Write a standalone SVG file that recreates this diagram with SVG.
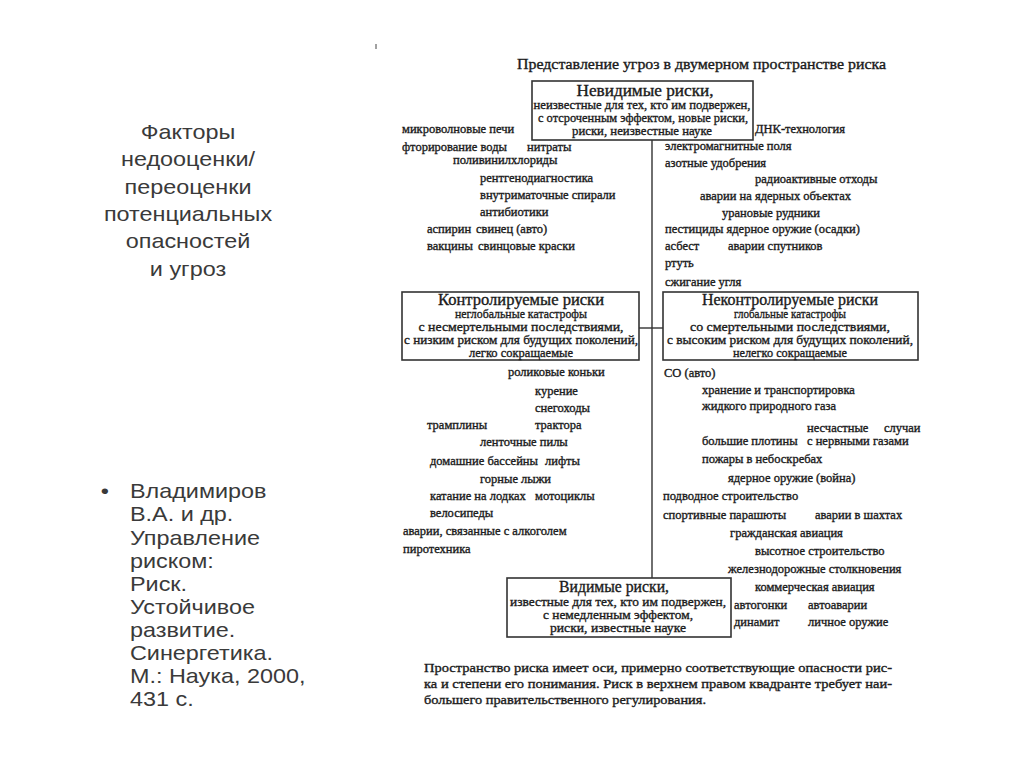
<svg xmlns="http://www.w3.org/2000/svg" width="1024" height="767" viewBox="0 0 1024 767">
<style>
.bg{fill:#fff}
.box{fill:none;stroke:#333;stroke-width:1.6}
.ax{fill:none;stroke:#333;stroke-width:1.4}
.s{font-family:"Liberation Serif","Times New Roman",serif;fill:#1a1a1a;stroke:#1a1a1a;stroke-width:0.35}
.it{font-size:12.5px}
.hd{font-size:16px}
.bl{font-size:13px}
.ttl{font-size:15px}
.note{font-size:13px}
.mid{text-anchor:middle}
.side{font-family:"Liberation Sans",Arial,sans-serif;font-size:20px;fill:#3a3a3a}
</style>
<rect class="bg" width="1024" height="767"/>

<g id="side-title" class="side" text-anchor="middle" transform="translate(188,0) scale(1.17,1) translate(-188,0)">
<text x="188" y="139">Факторы</text>
<text x="188" y="166">недооценки/</text>
<text x="188" y="194">переоценки</text>
<text x="188" y="221">потенциальных</text>
<text x="188" y="248">опасностей</text>
<text x="188" y="276">и угроз</text>
</g>

<g id="reference" class="side" transform="translate(130,0) scale(1.17,1) translate(-130,0)">
<text x="105" y="498">•</text>
<text x="130" y="498">Владимиров</text>
<text x="130" y="521">В.А. и др.</text>
<text x="130" y="545">Управление</text>
<text x="130" y="568">риском:</text>
<text x="130" y="591">Риск.</text>
<text x="130" y="614">Устойчивое</text>
<text x="130" y="637">развитие.</text>
<text x="130" y="660">Синергетика.</text>
<text x="130" y="683">М.: Наука, 2000,</text>
<text x="130" y="706">431 с.</text>
</g>

<line x1="376" y1="44" x2="376" y2="49" stroke="#444" stroke-width="1"/>

<text class="s ttl" x="517" y="69" textLength="369" lengthAdjust="spacingAndGlyphs">Представление угроз в двумерном пространстве риска</text>

<g id="connectors">
<line class="ax" x1="652" y1="140" x2="652" y2="578"/>
<line class="ax" x1="639" y1="328" x2="663" y2="328"/>
</g>

<g id="invisible">
<rect class="box" x="532" y="81" width="221" height="59"/>
<text class="s hd mid" x="645" y="96" textLength="137" lengthAdjust="spacingAndGlyphs">Невидимые риски,</text>
<text class="s bl mid" x="642" y="109" textLength="217" lengthAdjust="spacingAndGlyphs">неизвестные для тех, кто им подвержен,</text>
<text class="s bl mid" x="643" y="122" textLength="210" lengthAdjust="spacingAndGlyphs">с отсроченным эффектом, новые риски,</text>
<text class="s bl mid" x="642" y="135" textLength="140" lengthAdjust="spacingAndGlyphs">риски, неизвестные науке</text>
</g>

<g id="controlled">
<rect class="box" x="402" y="292" width="237" height="68"/>
<text class="s hd mid" x="521" y="305" textLength="166" lengthAdjust="spacingAndGlyphs">Контролируемые риски</text>
<text class="s bl mid" x="521" y="318" textLength="132" lengthAdjust="spacingAndGlyphs">неглобальные катастрофы</text>
<text class="s bl mid" x="521" y="331" textLength="205" lengthAdjust="spacingAndGlyphs">с несмертельными последствиями,</text>
<text class="s bl mid" x="521" y="344" textLength="234" lengthAdjust="spacingAndGlyphs">с низким риском для будущих поколений,</text>
<text class="s bl mid" x="521" y="357" textLength="104" lengthAdjust="spacingAndGlyphs">легко сокращаемые</text>
</g>

<g id="uncontrolled">
<rect class="box" x="663" y="292" width="255" height="68"/>
<text class="s hd mid" x="790" y="305" textLength="176" lengthAdjust="spacingAndGlyphs">Неконтролируемые риски</text>
<text class="s bl mid" x="790" y="318" textLength="112" lengthAdjust="spacingAndGlyphs">глобальные катастрофы</text>
<text class="s bl mid" x="790" y="331" textLength="200" lengthAdjust="spacingAndGlyphs">со смертельными последствиями,</text>
<text class="s bl mid" x="790" y="344" textLength="246" lengthAdjust="spacingAndGlyphs">с высоким риском для будущих поколений,</text>
<text class="s bl mid" x="790" y="357" textLength="114" lengthAdjust="spacingAndGlyphs">нелегко сокращаемые</text>
</g>

<g id="visible">
<rect class="box" x="507" y="578" width="224" height="59"/>
<text class="s hd mid" x="614" y="592" textLength="110" lengthAdjust="spacingAndGlyphs">Видимые риски,</text>
<text class="s bl mid" x="618" y="606" textLength="216" lengthAdjust="spacingAndGlyphs">известные для тех, кто им подвержен,</text>
<text class="s bl mid" x="618" y="619" textLength="150" lengthAdjust="spacingAndGlyphs">с немедленным эффектом,</text>
<text class="s bl mid" x="618" y="632" textLength="136" lengthAdjust="spacingAndGlyphs">риски, известные науке</text>
</g>

<g id="items-top-left" class="s it">
<text x="402" y="133">микроволновые печи</text>
<text x="402" y="151">фторирование воды</text>
<text x="527" y="151">нитраты</text>
<text x="453" y="164">поливинилхлориды</text>
<text x="480" y="182">рентгенодиагностика</text>
<text x="480" y="199">внутриматочные спирали</text>
<text x="480" y="216">антибиотики</text>
<text x="427" y="233">аспирин</text>
<text x="476" y="233">свинец (авто)</text>
<text x="427" y="250">вакцины</text>
<text x="478" y="250">свинцовые краски</text>
</g>

<g id="items-top-right" class="s it">
<text x="755" y="133">ДНК-технология</text>
<text x="665" y="150">электромагнитные поля</text>
<text x="665" y="167">азотные удобрения</text>
<text x="755" y="183">радиоактивные отходы</text>
<text x="700" y="200">аварии на ядерных объектах</text>
<text x="722" y="217">урановые рудники</text>
<text x="665" y="233">пестициды ядерное оружие (осадки)</text>
<text x="665" y="250">асбест</text>
<text x="728" y="250">аварии спутников</text>
<text x="665" y="267">ртуть</text>
<text x="665" y="286">сжигание угля</text>
</g>

<g id="items-bottom-left" class="s it">
<text x="508" y="376">роликовые коньки</text>
<text x="535" y="395">курение</text>
<text x="535" y="412">снегоходы</text>
<text x="427" y="429">трамплины</text>
<text x="535" y="429">трактора</text>
<text x="480" y="446">ленточные пилы</text>
<text x="430" y="465">домашние бассейны</text>
<text x="545" y="465">лифты</text>
<text x="480" y="483">горные лыжи</text>
<text x="430" y="500">катание на лодках</text>
<text x="535" y="500">мотоциклы</text>
<text x="430" y="517">велосипеды</text>
<text x="403" y="535">аварии, связанные с алкоголем</text>
<text x="403" y="553">пиротехника</text>
</g>

<g id="items-bottom-right" class="s it">
<text x="664" y="377">СО (авто)</text>
<text x="702" y="394">хранение и транспортировка</text>
<text x="702" y="410">жидкого природного газа</text>
<text x="807" y="432">несчастные</text>
<text x="884" y="432">случаи</text>
<text x="702" y="445">большие плотины</text>
<text x="807" y="445">с нервными газами</text>
<text x="702" y="463">пожары в небоскребах</text>
<text x="728" y="482">ядерное оружие (война)</text>
<text x="663" y="500">подводное строительство</text>
<text x="663" y="519">спортивные парашюты</text>
<text x="815" y="519">аварии в шахтах</text>
<text x="730" y="537">гражданская авиация</text>
<text x="755" y="555">высотное строительство</text>
<text x="728" y="573">железнодорожные столкновения</text>
<text x="755" y="591">коммерческая авиация</text>
<text x="734" y="609">автогонки</text>
<text x="808" y="609">автоаварии</text>
<text x="734" y="626">динамит</text>
<text x="808" y="626">личное оружие</text>
</g>

<g id="note" class="s note">
<text x="424" y="672" textLength="468" lengthAdjust="spacingAndGlyphs">Пространство риска имеет оси, примерно соответствующие опасности рис-</text>
<text x="424" y="688" textLength="468" lengthAdjust="spacingAndGlyphs">ка и степени его понимания. Риск в верхнем правом квадранте требует наи-</text>
<text x="424" y="704" textLength="282" lengthAdjust="spacingAndGlyphs">большего правительственного регулирования.</text>
</g>
</svg>
